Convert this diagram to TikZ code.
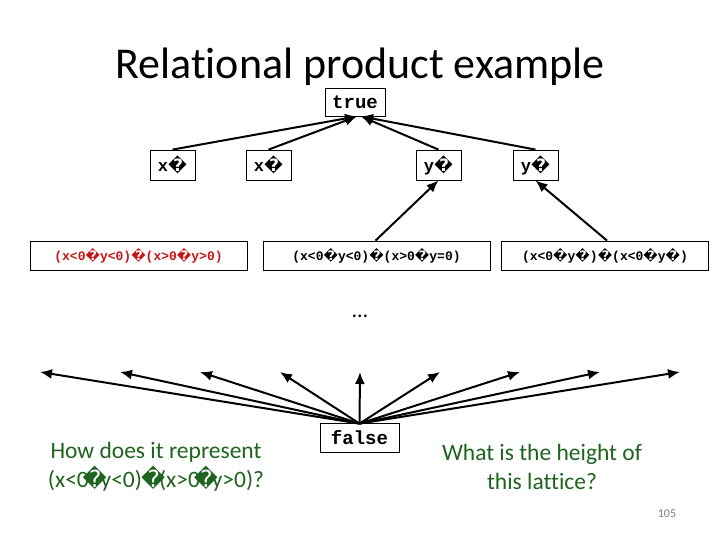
\documentclass[tikz,border=0pt]{standalone}
\usepackage{fontspec}
\setmainfont{Carlito}[Ligatures={NoCommon}]
\setmonofont{Liberation Mono}
\newfontfamily\dvs{DejaVu Sans}
\usetikzlibrary{arrows.meta}
\newcommand{\rc}{{\dvs\symbol{"FFFD}}}
\newcommand{\rcn}{\makebox[0.5em]{\dvs\symbol{"FFFD}}}
\definecolor{dgreen}{RGB}{30,100,30}
\definecolor{dred}{RGB}{200,20,20}
\tikzset{
  box/.style={draw, line width=0.8pt, inner sep=0pt, font=\ttfamily\bfseries\fontsize{17}{19}\selectfont},
  wide/.style={draw, line width=0.8pt, inner sep=0pt, minimum height=29pt, font=\ttfamily\bfseries\fontsize{13}{15}\selectfont},
  arr/.style={line width=2pt, -{Latex[length=12pt,width=10pt]}},
  note/.style={text=dgreen, align=center, font=\fontsize{23.5}{29}\selectfont}
}
\begin{document}
\begin{tikzpicture}[x=1pt,y=-1pt]
\useasboundingbox (0,0) rectangle (720,540);
\fill[white] (0,0) rectangle (720,540);
\node[font=\fontsize{44}{48}\selectfont] (title) at (360,67) {Relational product example};
\node[box, minimum width=60pt, minimum height=28pt, font=\ttfamily\bfseries\fontsize{19}{21}\selectfont] (true) at (355,102) {true};
\node[box, minimum width=45pt, minimum height=30pt] (x1) at (172.5,165) {x\rc};
\node[box, minimum width=45pt, minimum height=30pt] (x2) at (268.5,165) {x\rc};
\node[box, minimum width=45pt, minimum height=30pt] (y1) at (438.5,165) {y\rc};
\node[box, minimum width=45pt, minimum height=30pt] (y2) at (535.5,165) {y\rc};
\node[wide, minimum width=217pt, text=dred] (r1) at (138.5,255.5) {(x<0\rc y<0)\rc(x>0\rc y>0)};
\node[wide, minimum width=227pt] (r2) at (376.5,255.5) {(x<0\rc y<0)\rc(x>0\rc y=0)};
\node[wide, minimum width=207pt] (r3) at (605,255.5) {(x<0\rc y\rc)\rc(x<0\rc y\rc)};
\node[font=\fontsize{22}{24}\selectfont] (dots) at (360,316) {\dots};
\node[box, minimum width=79pt, minimum height=29pt, font=\ttfamily\bfseries\fontsize{19}{21}\selectfont] (false) at (359.5,437.5) {false};
\draw[arr] (x1.north) -- ([xshift=2pt]true.south);
\draw[arr] (x2.north) -- ([xshift=2pt]true.south);
\draw[arr] (y1.north) -- ([xshift=6pt]true.south);
\draw[arr] (y2.north) -- ([xshift=6pt]true.south);
\draw[arr] ([xshift=-1pt]r2.north) -- (y1.south);
\draw[arr] ([xshift=2pt]r3.north) -- (y2.south);
\foreach \i/\xx in {1/40,2/120,3/200,4/280,5/360,6/440,7/520,8/600,9/680} {
  \coordinate (t\i) at (\xx,372);
}
\coordinate (f) at ([yshift=-1pt]false.north);
\foreach \i in {1,...,9} {
  \draw[arr] (f) -- (t\i);
}
\node[note] (q1) at (156,467) {How does it represent\\(x<0\rcn y<0) \rcn(x>0\rcn y>0)?};
\node[note] (q2) at (542,467) {What is the height of\\this lattice?};
\node[text=gray, font=\fontsize{12}{14}\selectfont] (pg) at (667,514) {105};
\end{tikzpicture}
\end{document}
